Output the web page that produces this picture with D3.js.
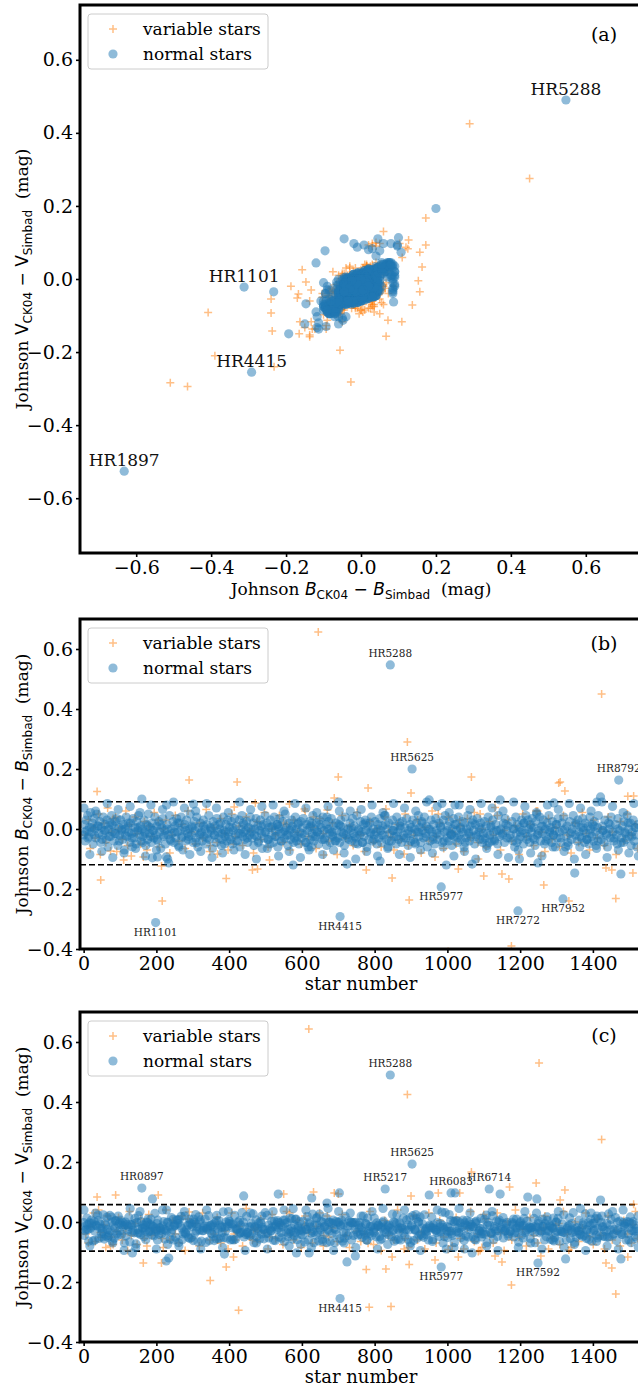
<!DOCTYPE html>
<html>
<head>
<meta charset="utf-8">
<script src="https://cdn.jsdelivr.net/npm/d3@7"></script>
<style>
  body { margin: 0; background: #fff; }
  svg { display: block; }
</style>
</head>
<body>
<svg id="fig" width="638" height="1386"></svg>
<script>
// star tables, values in mmag: [star number, B_CK04 - B_Simbad, V_CK04 - V_Simbad]
// null = no value for that band
var normalStars = [
[0,-20,-2],[2,15,-45],[4,-40,-29],[7,30,-24],[9,-5,13],[11,45,-9],[14,-25,-64],[16,5,-3],[19,55,-21],[21,-10,6],
[24,20,-13],[26,-50,-63],[29,35,2],[31,0,-60],[34,-30,-11],[36,50,-13],[39,10,23],[42,-15,-55],[44,25,-6],[47,-45,-21],
[49,5,-38],[52,-20,-32],[54,40,24],[57,-5,-57],[59,15,-5],[62,-35,-47],[64,30,16],[67,-60,-51],[69,0,-45],[72,20,22],
[74,-25,-29],[77,45,16],[79,-10,-64],[82,10,-12],[84,-40,-54],[87,25,4],[89,-15,5],[92,35,-38],[94,-55,-44],[97,5,-8],[99,-20,-2],
[102,30,6],[104,-5,-42],[107,-35,-2],[109,15,-15],[112,-70,-70],[114,0,-10],[117,40,-46],[119,-25,-9],[122,10,-27],[124,-10,16],
[127,-45,-66],[129,20,-8],[132,-15,-10],[136,35,-28],[139,-30,-36],[141,5,12],[144,-50,-73],[146,25,-1],[149,-5,-37],[151,45,21],
[154,-20,-37],[156,10,-42],[158,-40,1],[161,0,-20],[163,-25,-9],[166,30,-49],[168,-10,-19],[171,-55,-59],[173,15,0],[176,-35,-2],
[178,50,-33],[181,-15,-30],[183,5,-8],[186,-45,-11],[188,20,-43],[191,-5,-17],[193,-30,-46],[196,40,29],[199,-20,-32],
[201,10,-27],[204,-40,6],[207,25,-41],[209,-10,-19],[212,-65,-28],[215,5,-38],[218,35,-13],[220,-25,1],[223,-5,-57],[225,-50,-28],
[229,15,-30],[232,-20,-2],[236,45,-14],[238,-35,-57],[241,0,15],[243,-15,-25],[246,25,9],[248,-45,-60],[251,10,-12],[253,-30,-51],
[256,35,7],[258,-10,6],[261,-55,-69],[263,20,8],[266,-5,-12],[268,40,19],[271,-25,-59],[273,-70,-40],[276,5,-33],[278,15,20],
[281,-40,-39],[283,30,-26],[286,-15,-10],[288,-35,-52],[291,0,10],[293,50,-3],[296,-20,-52],[298,10,-7],
[301,-45,-62],[304,25,-1],[306,-5,-37],[309,-30,-6],[311,40,-16],[314,-60,-66],[316,5,17],[319,-20,-27],[321,20,7],[324,-10,-64],
[326,-40,-29],[329,30,-29],[331,-25,-14],[334,0,10],[336,-50,-68],[339,15,-20],[341,-15,-15],[344,45,21],[346,-35,-62],[349,5,-13],
[351,-5,-37],[354,-65,-8],[356,25,-16],[359,-20,-62],[361,10,-2],[364,-45,-56],[366,35,22],[369,-10,-24],[371,-30,-56],[374,0,-10],
[376,20,-53],[379,-55,-19],[381,-15,-35],[384,40,34],[386,-5,-52],[389,-25,-17],[391,15,0],[394,-40,-54],[396,30,-14],[399,-10,6],
[401,5,2],[404,-35,-60],[406,25,-6],[409,-50,-58],[411,-5,-7],[415,35,22],[418,-20,-57],[420,10,-22],[423,-40,-24],[425,-15,0],
[428,30,-39],[430,-60,-36],[433,0,-35],[435,45,31],[438,-25,-34],[441,15,-50],[443,-35,-17],[446,-5,-42],[448,25,19],[451,-45,-36],
[453,5,-43],[456,-20,-17],[458,40,-46],[461,-10,-4],[463,-30,-41],[466,20,27],[468,-55,-69],[471,0,-15],[474,35,7],[476,-25,-49],
[479,10,-22],[481,-40,-4],[484,-5,-57],[486,30,1],[489,-15,-40],[491,-65,-18],[494,15,-25],[496,-30,-56],[499,45,31],
[501,-10,-39],[504,20,22],[506,-35,-37],[509,5,-53],[512,-50,-23],[514,30,-29],[517,-20,3],[519,10,-17],[522,-45,-61],[524,40,4],
[527,-5,-62],[529,-25,-9],[532,15,-25],[534,-60,-1],[537,0,-50],[539,35,-3],[542,-15,-10],[544,-40,-54],[547,25,-16],[549,-10,6],
[552,-30,-66],[554,50,7],[557,5,-33],[559,-20,-2],[562,-55,-49],[564,20,-38],[567,-5,13],[569,-35,-32],[572,30,11],[574,10,-57],
[577,-45,-31],[579,-15,-45],[582,40,9],[584,0,10],[587,-25,-59],[589,15,-20],[592,-50,-28],[594,-10,1],[597,25,-41],[599,-30,-26],
[602,5,-43],[604,35,2],[608,-20,-67],[610,-45,-16],[613,15,-25],[615,-5,18],[617,-60,-60],[621,25,-6],[623,-35,-17],[625,10,-37],
[628,-15,-30],[630,45,26],[633,-40,-69],[635,0,-10],[638,-25,-44],[640,20,12],[643,-10,-34],[646,-50,-63],[648,30,26],[651,-20,-27],
[653,5,2],[656,-35,-58],[658,40,-1],[661,-5,-42],[663,-30,-16],[666,15,15],[668,-55,-69],[671,0,-25],[673,25,-1],[676,-15,0],
[678,-45,-66],[681,35,-3],[683,-10,-39],[686,-25,6],[688,10,-22],[691,-40,-69],[694,20,2],[696,-5,-42],[699,-30,-1],
[702,15,0],[704,-45,-56],[707,30,-14],[709,-10,6],[712,-25,-64],[714,5,-8],[717,-55,-54],[719,40,19],[722,-20,-37],[727,0,-45],
[729,-35,3],[732,20,-13],[734,-5,-2],[737,-40,-60],[739,35,-3],[742,-15,-45],[744,10,-2],[749,-30,-1],[751,45,-34],[754,-50,-43],
[756,0,-10],[759,-20,-2],[761,25,-41],[764,-10,-19],[766,-45,-51],[769,15,20],[771,-25,-34],[774,30,-44],[776,-5,-7],[779,-60,-61],
[781,10,13],[784,-35,-32],[786,20,-38],[789,-15,-15],[791,40,-46],[794,-40,-14],[796,0,-30],[799,-20,13],
[801,25,-21],[804,-10,-49],[806,-50,-3],[809,15,-15],[811,-30,-11],[814,35,-48],[817,-5,-17],[819,-45,-56],[822,10,-2],[824,-20,3],
[827,45,-34],[832,-35,-37],[834,0,-10],[837,-60,-16],[839,20,-43],[842,-15,-20],[846,-40,-49],[849,30,26],[851,-5,-27],[854,-25,-64],
[856,10,-2],[859,-50,-58],[861,40,24],[864,-10,-24],[866,-35,-57],[869,20,-3],[871,0,-60],[874,-45,-16],[876,25,-21],[879,-20,13],
[883,5,-48],[886,-30,-26],[888,35,7],[892,-55,-59],[894,-5,-27],[897,15,15],[899,-40,-69],
[902,-15,-10],[905,30,21],[907,-35,-62],[910,0,-25],[912,-50,-28],[915,20,12],[917,-10,-54],[920,45,1],[922,-25,-44],[925,5,17],
[927,-45,-41],[930,25,-46],[932,-5,-7],[935,-30,-51],[937,40,24],[940,-15,-25],[942,10,-42],[945,-60,-31],[948,0,-60],[952,-40,-14],
[955,30,-19],[957,-10,16],[960,-25,-59],[962,15,-10],[965,-50,-23],[968,35,-28],[970,-5,-27],[973,-35,-2],[977,20,-48],[980,-20,-17],
[982,5,-33],[987,-45,-11],[989,30,-19],[992,-10,-49],[994,45,31],[999,-30,-31],
[1001,10,-52],[1004,-40,-19],[1006,25,-31],[1009,-15,5],[1012,-55,-39],[1014,0,-45],[1017,35,2],[1019,-25,-69],[1023,15,5],[1025,-5,-32],
[1028,-45,4],[1031,40,-36],[1033,-20,-22],[1036,5,-3],[1038,-35,-52],[1041,25,-16],[1043,-10,6],[1046,-60,-62],[1048,20,-3],[1051,-30,-46],
[1053,0,5],[1056,45,-14],[1058,-15,-50],[1061,-40,1],[1063,10,-17],[1065,-25,-9],[1070,30,-49],[1072,-5,-17],[1075,-50,-58],[1077,15,0],
[1080,-20,3],[1082,35,-38],[1087,-10,-29],[1089,-35,-22],[1092,20,12],[1094,0,-50],[1097,-45,-31],[1099,-15,-40],
[1102,25,9],[1104,-30,-41],[1107,10,23],[1109,-55,-69],[1112,40,-1],[1117,-20,-12],[1119,5,-38],[1122,-40,-39],[1124,30,21],[1127,-10,-59],
[1129,-35,-22],[1133,15,-30],[1135,-5,3],[1138,-50,-48],[1140,45,-29],[1143,-25,6],[1147,0,-20],[1152,-15,-5],[1154,20,-53],[1157,-45,-31],
[1159,35,-28],[1162,-5,-7],[1164,-30,-1],[1167,10,-47],[1173,-20,-32],[1178,25,-1],[1180,-40,-9],[1183,0,-50],[1185,-60,-36],[1188,40,-21],
[1190,-15,10],[1192,15,-20],[1196,-35,-67],[1199,5,-3],
[1201,-25,1],[1204,30,-44],[1206,-5,-12],[1209,-50,-53],[1211,20,12],[1214,-15,-35],[1216,45,-29],[1219,-35,3],[1223,0,-20],[1226,-45,-16],
[1228,15,-55],[1231,-10,-19],[1233,35,-28],[1236,-30,-16],[1238,5,12],[1241,-55,-69],[1243,25,-16],[1247,-20,-17],[1251,-5,3],[1254,40,-36],
[1256,-40,-29],[1259,10,-32],[1261,-15,10],[1264,30,-14],[1267,-50,-60],[1269,0,-5],[1272,-25,-49],[1274,20,17],[1277,-35,-32],[1279,45,-29],
[1282,-10,-14],[1284,5,-58],[1287,-45,-16],[1289,25,-21],[1292,-20,13],[1295,-5,-52],[1297,-60,-36],[1299,15,0],
[1302,-30,-31],[1304,35,12],[1308,-10,-64],[1312,-45,-31],[1315,20,-33],[1317,-5,-7],[1320,40,24],[1327,-25,-59],[1329,10,-22],[1332,-55,-29],
[1336,25,14],[1338,-15,-55],[1341,-35,-27],[1343,0,-35],[1346,45,31],[1352,-20,-32],[1354,15,-50],[1357,-40,-19],[1359,30,-29],[1362,-10,6],
[1364,-60,-41],[1367,5,-43],[1369,-30,-21],[1372,35,-48],[1374,-5,-2],[1377,-45,-46],[1379,20,27],[1382,-15,-55],[1384,-35,-27],[1387,10,-2],
[1389,-50,-58],[1392,40,-11],[1394,0,10],[1397,-25,-64],[1399,15,-5],
[1402,-40,-29],[1404,25,-26],[1407,-10,11],[1409,-55,-44],[1413,5,-53],[1415,45,11],[1418,-20,-47],[1423,-35,-2],[1426,10,-17],[1428,-5,-47],
[1431,-45,-26],[1433,30,-49],[1438,-15,-5],[1440,-60,-51],[1443,20,27],[1445,0,-50],[1448,-30,-26],[1450,40,9],[1455,-10,-44],[1457,-40,-39],
[1462,15,15],[1465,-20,-62],[1467,-50,-28],[1469,35,-23],[1474,-5,3],[1479,-30,-41],[1481,10,-42],[1484,-45,-1],[1486,25,-11],[1489,-15,-5],
[1491,-35,-60],[1494,45,1],[1498,0,-40],[1500,-25,0],[1503,20,17],[1505,-55,-69],[1508,-10,-29],[1511,30,1],[1514,-40,-9],[1516,5,-48],
[1519,-20,-22],[1521,-60,-56],[1524,15,20]
];

// the crowded middle of the band
var normalCore = [
[3,-10,-15],[12,-30,-25],[22,5,-5],[30,-20,-30],[40,10,5],[51,-35,-20],[60,-5,-10],[70,-25,-35],[78,15,0],[86,-15,-20],
[98,-40,-30],[105,0,-10],[115,-20,0],[123,20,-15],[133,-30,-35],[140,-10,-5],[150,5,-25],[162,-45,-20],[169,-15,-10],[177,10,10],
[184,-25,-30],[192,-5,-15],[202,-35,-5],[211,15,-20],[221,-20,-25],[230,0,0],[240,-40,-35],[250,-10,-10],[259,20,-5],[269,-30,-20],
[280,-5,-35],[289,-25,-10],[299,5,-15],[310,-45,-30],[320,-15,0],[330,10,-20],[340,-30,-25],[350,0,-10],[360,-20,-35],[372,15,5],
[380,-35,-15],[390,-10,-30],[400,-25,-5],[410,5,-20],[419,-40,-25],[431,-15,-10],[439,20,0],[450,-30,-35],[460,0,-15],[470,-20,-20],
[480,-45,-30],[488,10,-5],[498,-10,-25],[508,-35,-10],[516,5,-30],[526,-25,-15],[533,15,5],[543,-40,-35],[553,-5,-5],[563,-20,-25],
[571,0,-20],[580,-30,-10],[590,20,-15],[601,-15,-30],[612,-45,-25],[622,5,0],[631,-25,-35],[642,-10,-10],[650,15,-20],[662,-35,-15],
[675,0,-30],[685,-20,-5],[693,-40,-25],[706,10,-10],[715,-15,-35],[726,-30,-15],[736,5,0],[746,-25,-25],[757,-5,-20],[767,-45,-30],
[775,20,-5],[788,-10,-15],[798,-35,-35],[810,0,-10],[820,-20,-20],[830,15,-25],[840,-40,-10],[850,-5,-30],[860,-25,-5],[870,10,-20],
[880,-30,-35],[891,-15,-10],[901,5,-15],[911,-45,-25],[921,-10,0],[931,20,-20],[941,-25,-30],[951,0,-10],[961,-35,-20],[971,-15,-35],
[981,10,-5],[991,-40,-25],[1000,-5,-15],[1011,-20,-30],[1020,15,0],[1027,-30,-20],[1037,0,-35],[1049,-45,-10],[1059,-10,-25],[1069,20,-15],
[1079,-25,-5],[1088,5,-30],[1098,-35,-20],[1110,-15,-10],[1120,10,-35],[1130,-40,-15],[1141,-5,0],[1151,-20,-25],[1161,15,-20],[1172,-30,-30],
[1181,0,-5],[1191,-45,-35],[1200,-10,-15],[1210,20,-10],[1220,-25,-25],[1230,5,-20],[1240,-35,-35],[1250,-15,-5],[1262,10,-15],[1271,-40,-30],
[1281,-5,-10],[1291,-20,-20],[1300,15,0],[1311,-30,-25],[1322,0,-35],[1331,-45,-15],[1342,-10,-5],[1353,20,-20],[1363,-25,-30],[1373,5,-10],
[1383,-35,-25],[1393,-15,-35],[1403,10,-5],[1414,-40,-20],[1427,-5,-15],[1437,-20,-30],[1447,15,-10],[1458,-30,-25],[1468,0,0],[1478,-45,-35],
[1488,-10,-15],[1497,20,-20],[1507,-25,-5],[1518,5,-30]
];

// the thinner edges of the band
var normalTails = [
[1,70,40],[33,60,30],[65,85,-25],[95,65,20],[128,75,45],[155,55,35],[185,80,10],[217,65,40],[247,90,-15],[277,70,35],
[308,60,25],[338,85,40],[365,70,5],[398,55,35],[429,90,5],[459,65,30],[490,75,20],[521,80,35],[551,60,40],[581,85,-35],
[611,70,40],[641,55,15],[672,75,45],[701,90,35],[733,60,30],[763,65,20],[793,80,35],[823,55,45],[852,85,0],[882,70,40],
[913,60,25],[943,90,-20],[972,75,40],[1005,55,25],[1032,80,45],[1062,65,30],[1093,85,-40],[1123,70,35],[1153,60,15],[1182,90,10],
[1213,75,35],[1245,55,30],[1275,80,5],[1305,65,35],[1335,85,-10],[1366,70,45],[1395,60,30],[1425,90,20],[1454,75,35],[1483,55,40],[1513,85,-30],
[17,-85,-80],[50,-75,-50],[80,-95,-70],[111,-80,-95],[143,-65,-85],[170,-90,-30],[200,-70,-90],[231,-100,-75],[262,-60,-80],[292,-85,-55],
[322,-75,-90],[353,-95,-40],[382,-80,-85],[413,-70,-60],[444,-85,-95],[475,-100,-70],[505,-65,-90],[536,-90,-20],[565,-75,-80],[596,-95,-75],
[626,-60,-85],[657,-85,-65],[687,-70,-95],[716,-80,-70],[748,-100,-85],[778,-75,-60],[808,-90,-90],[836,-65,-75],[868,-85,-30],[898,-95,-80],
[926,-70,-95],[959,-80,-65],[988,-60,-70],[1018,-90,-85],[1047,-75,-90],[1078,-100,-60],[1108,-65,-80],[1139,-85,-95],[1168,-95,-40],[1195,-70,-85],
[1229,-80,-70],[1260,-90,-90],[1290,-60,-60],[1321,-75,-85],[1349,-100,-75],[1380,-85,-95],[1410,-65,-65],[1439,-95,-80],[1470,-70,-90],[1499,-80,-60],[1525,-90,-85]
];

// normal stars off the main band
var normalOutliers = [
[1021,80,97],[950,97,90],[985,85,33],[1145,97,93],[1293,87,-63],[1421,107,73],[1411,90,20],[302,83,10],[228,80,40],[535,8,93],
[440,-10,87],[189,-96,77],[627,20,80],[703,60,97],[669,40,63],[1246,50,77],[1221,30,83],[134,-60,-103],[203,-93,-60],[227,-93,-130],
[234,-113,-120],[387,-50,-107],[585,-40,-103],[620,-70,-103],[1068,-117,-103],[724,-117,-133],[747,-48,-113],[1325,-60,-123],[1477,-150,-123],[1350,-147,-68],
[997,-120,-90],[815,-107,-60],[576,-120,44],[1198,-100,-10]
];

// named normal stars: [name, star number, dB, dV]
var namedStars = [
["HR5288",843,547,490],["HR1101",198,-312,-22],["HR4415",705,-292,-255],["HR1897",370,-632,-526],
["HR5625",903,200,193],["HR8792",1471,163,null],["HR5977",983,-193,-150],["HR7272",1194,-273,null],
["HR7952",1318,-233,-35],["HR0897",160,100,113],["HR5217",829,45,110],["HR6083",1010,-19,97],
["HR6714",1115,-45,110],["HR7592",1249,-113,-137]
];

var variableStars = [
[6,-20,-40],[13,30,-70],[18,-65,-15],[27,5,30],[32,-30,-65],[41,50,40],[46,-85,-35],[56,20,-10],[61,-45,-85],[66,70,20],
[76,-10,-50],[81,35,-75],[91,-75,-30],[96,0,15],[106,-35,-60],[116,60,-20],[121,-55,-95],[126,15,35],[131,-90,-45],[142,40,-5],
[147,-15,-75],[157,-50,10],[167,25,-55],[174,-70,-80],[179,10,25],[187,-25,-45],[194,55,-30],[208,-60,-20],[219,0,-85],[226,30,40],
[237,-80,-60],[244,-20,5],[252,45,-40],[262,-40,-70],[270,15,20],[279,-65,-95],[287,60,10],[297,-10,-55],[307,-50,-5],[318,20,-80],
[327,-30,30],[337,65,-25],[347,-75,-60],[357,5,-40],[367,-45,15],[377,35,-70],[388,-15,-30],[397,-70,-90],[407,50,30],[417,-25,-60],
[427,10,-15],[437,-55,-80],[447,40,45],[457,-5,-50],[467,-80,-25],[477,25,-65],[487,-35,10],[497,55,-35],[507,-60,-90],[518,0,25],
[528,-20,-55],[538,45,-10],[548,-45,-75],[558,15,35],[568,-70,-40],[578,30,-60],[588,-10,5],[598,-50,-85],[609,60,20],[618,-25,-35],
[629,5,-70],[639,-65,-15],[649,35,30],[659,-15,-80],[674,-40,-50],[684,20,-20],[697,-85,-65],[711,45,25],[721,-30,-45],[731,10,-85],
[741,-55,0],[752,55,-30],[762,-20,-65],[772,-75,-40],[787,25,35],[797,-45,-75],[807,0,-20],[818,-60,-95],[828,40,5],[838,-10,-45],
[853,-70,-60],[863,15,40],[873,-35,-25],[884,50,-55],[893,-55,-85],[908,-20,20],[918,30,-60],[928,-80,-35],[938,5,-90],[949,-40,30],
[958,60,-15],[969,-25,-70],[979,20,5],[990,-65,-50],[1003,40,-30],[1013,-10,-80],[1024,-50,15],[1035,10,-55],[1045,-75,-90],[1055,35,-20],
[1064,-30,35],[1074,55,-65],[1084,-45,-40],[1095,0,-85],[1106,-60,10],[1116,25,-45],[1126,-20,-70],[1137,45,30],[1146,-70,-35],[1156,-5,-95],
[1166,30,0],[1177,-40,-60],[1187,10,40],[1197,-85,-50],[1207,50,-25],[1217,-25,-80],[1227,15,15],[1237,-55,-45],[1248,60,-70],[1258,-10,-30],
[1268,-75,20],[1278,35,-90],[1288,-35,-55],[1298,5,-10],[1309,-60,-75],[1319,45,35],[1330,-20,-40],[1340,-80,-85],[1351,20,0],[1361,-45,-65],
[1371,55,-20],[1381,-15,30],[1391,-70,-50],[1401,30,-75],[1412,-30,10],[1422,0,-45],[1432,-55,-90],[1442,40,20],[1453,-10,-60],[1464,-85,-30],
[1475,25,-80],[1485,-40,5],[1495,50,-40],[1506,-20,-70],[1517,15,35],[1523,-65,-55]
];

var variableOutliers = [
[645,657,null],[619,null,643],[1252,null,530],[1171,null,117],[890,290,425],[1424,450,275],[37,125,83],[290,163,33],[422,157,-35],[700,173,93],
[1066,173,167],[782,137,-71],[900,120,87],[1310,157,73],[1323,127,107],[1512,110,59],[689,103,97],[566,83,30],[472,87,-20],[414,73,-40],
[670,63,20],[607,67,-10],[47,-170,-52],[216,-240,-55],[895,-237,-142],[1463,-232,-240],[1176,-390,-210],[785,-509,-284],[426,-463,-294],[845,-27,-282],
[348,-56,-195],[1002,-408,-92],[392,-165,-150],[848,-163,-117],[777,-137,-158],[1100,-157,25],[1150,-150,-133],[1169,-167,-41],[1265,-187,-20],[1334,-240,-93],
[1436,-130,-137],[1452,-137,-153],[1510,-147,-8],[1085,-100,-98],[1030,-133,-117],[966,-93,-127],[881,-83,-90],[110,-103,-40],[164,-93,-137],[214,-123,-137],
[464,-137,-60],[478,-133,-30],[511,-103,-50],[368,-83,-60],[660,-87,-45],[74,-73,-80],[412,-50,-117],[88,40,90],[205,30,90],[550,20,93],
[632,40,100],[975,50,97],[1034,30,97],[1244,60,130],[1131,72,-113],[1257,-90,-113],[1496,109,-117],[831,67,-157],[1090,50,-95],[1306,153,-5]
];

// which names are written in each panel
var namesA = ["HR5288","HR1101","HR4415","HR1897"];
var namesB = ["HR5288","HR5625","HR8792","HR1101","HR4415","HR5977","HR7272","HR7952"];
var namesC = ["HR0897","HR5288","HR5625","HR5217","HR6083","HR6714","HR4415","HR5977","HR7592"];

// dashed limits (mag)
var bandB = [0.091, -0.119];
var bandV = [0.058, -0.097];

// ticks
var magTicks = [-0.6, -0.4, -0.2, 0.0, 0.2, 0.4, 0.6];
var resTicks = [-0.4, -0.2, 0.0, 0.2, 0.4, 0.6];
var starTicks = [0, 200, 400, 600, 800, 1000, 1200, 1400];

var svg = d3.select("#fig");
var LEFT = 80, RIGHT = 642;
var SERIF = "DejaVu Serif", SANS = "DejaVu Sans";

// rows -> objects
function toObj(r) { return {n: r[0], b: r[1], v: r[2]}; }
var normals = normalStars.concat(normalCore, normalTails, normalOutliers).map(toObj);
namedStars.forEach(function (r) { normals.push({n: r[1], b: r[2], v: r[3], name: r[0]}); });
var variables = variableStars.concat(variableOutliers).map(toObj);

function mag(k) { return function (d) { return d[k] == null ? null : d[k] / 1000; }; }
function num(d) { return d.n; }

// Johnson X_CK04 - X_Simbad  (mag)
function mathLabel(t, letter, italic) {
  t.append("tspan").text("Johnson ");
  t.append("tspan").attr("font-family", SANS).attr("font-style", italic ? "italic" : "normal").text(letter);
  t.append("tspan").attr("font-family", SANS).attr("font-size", 12).attr("dy", 3.5).text("CK04");
  t.append("tspan").attr("font-family", SANS).attr("dy", -3.5).text(" \u2212 ");
  t.append("tspan").attr("font-family", SANS).attr("font-style", italic ? "italic" : "normal").text(letter);
  t.append("tspan").attr("font-family", SANS).attr("font-size", 12).attr("dy", 3.5).text("Simbad");
  t.append("tspan").attr("dy", -3.5).text("  (mag)");
}

function drawPanel(p, idx) {
  var x = d3.scaleLinear().domain(p.xDomain).range([LEFT, RIGHT]);
  var y = d3.scaleLinear().domain(p.yDomain).range([p.bottom, p.top]);
  var g = svg.append("g");

  // clip to the axes box
  var cid = "clip" + idx;
  svg.append("clipPath").attr("id", cid).append("rect")
    .attr("x", LEFT).attr("y", p.top).attr("width", RIGHT - LEFT).attr("height", p.bottom - p.top);
  var plot = g.append("g").attr("clip-path", "url(#" + cid + ")");

  // dashed limits
  p.bands.forEach(function (b) {
    plot.append("line").attr("x1", LEFT).attr("x2", RIGHT).attr("y1", y(b)).attr("y2", y(b))
      .style("stroke", "#000").style("stroke-width", 1.6).style("stroke-dasharray", "6,3");
  });

  var has = function (d) { return p.xv(d) != null && p.yv(d) != null; };

  // variable stars first, normal on top
  plot.selectAll("path.var")
    .data(variables.filter(has))
    .enter().append("path")
    .attr("class", "var")
    .attr("d", function (d) { return "M" + (x(p.xv(d)) - 4) + "," + y(p.yv(d)) + "h8M" + x(p.xv(d)) + "," + (y(p.yv(d)) - 4) + "v8"; })
    .style("stroke", "#ff7f0e").style("stroke-opacity", 0.5).style("stroke-width", 1.5).style("fill", "none");

  plot.selectAll("circle.norm")
    .data(normals.filter(has))
    .enter().append("circle")
    .attr("class", "norm")
    .attr("cx", function (d) { return x(p.xv(d)); })
    .attr("cy", function (d) { return y(p.yv(d)); })
    .attr("r", 4.6)
    .style("fill", "#1f77b4").style("fill-opacity", 0.5);

  // star names
  p.names.forEach(function (nm) {
    var d = normals.find(function (s) { return s.name == nm; });
    var px = x(p.xv(d)), py = y(p.yv(d));
    var t = g.append("text").attr("x", px).attr("text-anchor", "middle")
      .attr("font-family", SERIF);
    if (p.big) {
      t.attr("y", py - 5).attr("font-size", 17).style("fill", "#111");
    } else {
      t.attr("y", p.yv(d) > 0 ? py - 8 : py + 13).attr("font-size", 10.5).style("fill", "#222");
    }
    t.text(nm);
  });

  // axes
  var ax = g.append("g").attr("transform", "translate(0," + p.bottom + ")")
    .call(d3.axisBottom(x).tickValues(p.xTicks).tickSize(4).tickPadding(4).tickFormat(p.xFmt));
  var ay = g.append("g").attr("transform", "translate(" + LEFT + ",0)")
    .call(d3.axisLeft(y).tickValues(p.yTicks).tickSize(4).tickPadding(3).tickFormat(d3.format(".1f")));
  [ax, ay].forEach(function (a) {
    a.select(".domain").remove();
    a.selectAll("line").style("stroke", "#000").style("stroke-width", 1.6);
    a.selectAll("text").attr("font-family", SERIF).attr("font-size", 19).style("fill", "#000");
  });

  // spines (right one is outside the picture)
  g.append("rect").attr("x", LEFT).attr("y", p.top).attr("width", RIGHT - LEFT).attr("height", p.bottom - p.top)
    .style("fill", "none").style("stroke", "#000").style("stroke-width", 3);

  // axis titles
  var xt = g.append("text").attr("x", (LEFT + RIGHT) / 2)
    .attr("text-anchor", "middle").attr("font-family", SERIF).style("white-space", "pre");
  if (p.xLabel == "star number") xt.attr("y", p.bottom + 41).attr("font-size", 18).text("star number");
  else { xt.attr("y", p.bottom + 42).attr("font-size", 17); mathLabel(xt, p.xLabel[0], p.xLabel[1]); }

  var cy = (p.top + p.bottom) / 2;
  var yt = g.append("text").attr("transform", "translate(28," + cy + ") rotate(-90)")
    .attr("text-anchor", "middle").attr("font-family", SERIF).attr("font-size", 17).style("white-space", "pre");
  mathLabel(yt, p.yLabel[0], p.yLabel[1]);

  // legend
  var ly = p.top + 9;
  g.append("rect").attr("x", 88).attr("y", ly).attr("width", 180).attr("height", 55).attr("rx", 3)
    .style("fill", "#fff").style("fill-opacity", 0.8).style("stroke", "#ccc");
  g.append("path").attr("d", "M109," + (ly + 15) + "h8M113," + (ly + 11) + "v8")
    .style("stroke", "#ff7f0e").style("stroke-opacity", 0.5).style("stroke-width", 1.5);
  g.append("circle").attr("cx", 113).attr("cy", ly + 40).attr("r", 4.6)
    .style("fill", "#1f77b4").style("fill-opacity", 0.5);
  g.append("text").attr("x", 143).attr("y", ly + 21).attr("font-family", SERIF).attr("font-size", 17).text("variable stars");
  g.append("text").attr("x", 143).attr("y", ly + 46).attr("font-family", SERIF).attr("font-size", 17).text("normal stars");

  // panel letter
  g.append("text").attr("x", 604).attr("y", p.letterY).attr("text-anchor", "middle")
    .attr("font-family", SERIF).attr("font-size", 19).text(p.letter);
}

drawPanel({top: 5, bottom: 553, xDomain: [-0.75, 0.75], yDomain: [-0.75, 0.75],
  xv: mag("b"), yv: mag("v"), xTicks: magTicks, yTicks: magTicks, xFmt: d3.format(".1f"),
  xLabel: ["B", true], yLabel: ["V", false], letter: "(a)", letterY: 41, names: namesA, big: true, bands: []}, 0);

drawPanel({top: 619, bottom: 949, xDomain: [-10, 1535], yDomain: [-0.4, 0.7],
  xv: num, yv: mag("b"), xTicks: starTicks, yTicks: resTicks, xFmt: d3.format("d"),
  xLabel: "star number", yLabel: ["B", true], letter: "(b)", letterY: 650, names: namesB, bands: bandB}, 1);

drawPanel({top: 1012, bottom: 1342, xDomain: [-10, 1535], yDomain: [-0.4, 0.7],
  xv: num, yv: mag("v"), xTicks: starTicks, yTicks: resTicks, xFmt: d3.format("d"),
  xLabel: "star number", yLabel: ["V", false], letter: "(c)", letterY: 1042, names: namesC, bands: bandV}, 2);
</script>
</body>
</html>
